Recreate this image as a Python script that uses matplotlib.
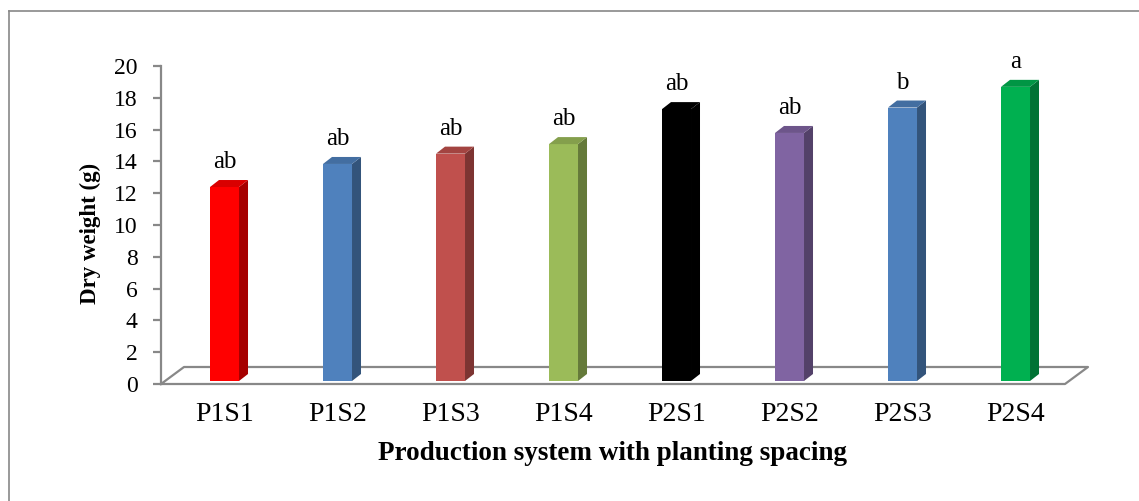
import matplotlib.pyplot as plt
from matplotlib.patches import Polygon
from matplotlib.lines import Line2D
import matplotlib.colors as mcolors
import numpy as np

# dry weight per treatment, with significance letters
categories = ["P1S1", "P1S2", "P1S3", "P1S4", "P2S1", "P2S2", "P2S3", "P2S4"]
dry_weight = [12.2, 13.65, 14.3, 14.9, 17.1, 15.6, 17.2, 18.5]
letters = ["ab", "ab", "ab", "ab", "ab", "ab", "b", "a"]
bar_colors = ["#FF0000", "#4F81BD", "#C0504D", "#9BBB59",
              "#000000", "#8064A2", "#4F81BD", "#00B050"]

plt.rcParams["font.family"] = ["Liberation Serif", "DejaVu Serif"]

W, H = 1139, 501
fig = plt.figure(figsize=(W / 100, H / 100), dpi=100)
fig.patch.set_facecolor("white")

# plot area in pixels
left_px, right_px, top_px, bottom_px = 161, 1065, 66, 384
ax = fig.add_axes([left_px / W, (H - bottom_px) / H,
                   (right_px - left_px) / W, (bottom_px - top_px) / H])
x0, x1 = -0.562, 7.438
ax.set_xlim(x0, x1)
ax.set_ylim(0, 20)

px_x = (right_px - left_px) / (x1 - x0)   # pixels per category unit
px_y = (bottom_px - top_px) / 20.0        # pixels per gram

grey = "#888888"

# floor of the 3d box
fdx, fdy = 23 / px_x, 17 / px_y
floor = [(x0, 0), (x1, 0), (x1 + fdx, fdy), (x0 + fdx, fdy), (x0, 0)]
ax.add_line(Line2D([p[0] for p in floor], [p[1] for p in floor],
                   color=grey, lw=1.6, clip_on=False, zorder=1))

# bars with front, side and top faces
w = 29 / px_x
sdx, sdy = 9 / px_x, 7 / px_y
base = 3 / px_y


def shade(c, f):
    r, g, b = mcolors.to_rgb(c)
    return (r * f, g * f, b * f)


for i, (v, col, lab) in enumerate(zip(dry_weight, bar_colors, letters)):
    xl, xr = i - w / 2, i + w / 2
    yt = base + v
    front = Polygon([(xl, base), (xr, base), (xr, yt), (xl, yt)],
                    closed=True, facecolor=col, edgecolor="none", zorder=3)
    side = Polygon([(xr, base), (xr + sdx, base + sdy), (xr + sdx, yt + sdy), (xr, yt)],
                   closed=True, facecolor=shade(col, 0.65), edgecolor="none", zorder=3)
    top = Polygon([(xl, yt), (xl + sdx, yt + sdy), (xr + sdx, yt + sdy), (xr, yt)],
                  closed=True, facecolor=shade(col, 0.85), edgecolor="none", zorder=3)
    for p in (front, side, top):
        p.set_clip_on(False)
        ax.add_patch(p)
    ax.text(i, yt + sdy + 12 / px_y, lab, ha="center", va="baseline",
            fontsize=18, zorder=4)

# axes styling
for s in ("top", "right", "bottom"):
    ax.spines[s].set_visible(False)
ax.spines["left"].set_color(grey)
ax.spines["left"].set_linewidth(1.6)
ax.set_yticks(np.arange(0, 21, 2))
ax.tick_params(axis="y", length=6, width=1.6, color=grey, pad=11, labelsize=17)
ax.set_xticks(range(len(categories)))
ax.set_xticklabels(categories)
ax.tick_params(axis="x", length=0, pad=13, labelsize=20)

fig.text(90 / W, 1 - 233 / H, "Dry weight (g)", rotation=90, ha="center",
         va="center", fontsize=16.5, fontweight="bold")
fig.text(613 / W, 1 - 454 / H, "Production system with planting spacing",
         ha="center", va="center", fontsize=19.5, fontweight="bold")

# outer chart frame (runs off the right and bottom edges)
fig.add_artist(Line2D([9 / W, 9 / W], [0, 1 - 11 / H], color=grey, lw=1.2))
fig.add_artist(Line2D([9 / W, 1], [1 - 11 / H, 1 - 11 / H], color=grey, lw=1.2))

fig.savefig("out.png", dpi=100)
